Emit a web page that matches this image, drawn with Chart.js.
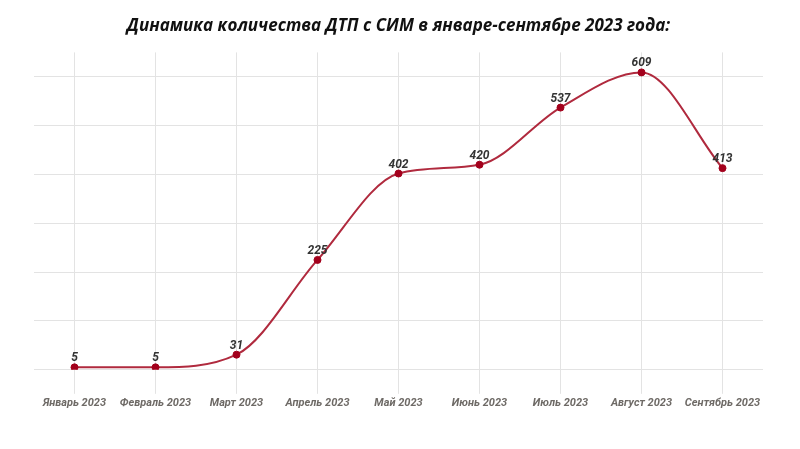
<!DOCTYPE html>
<html>
<head>
<meta charset="utf-8">
<script src="https://cdn.jsdelivr.net/npm/chart.js@4"></script>
<style>
  html, body { margin: 0; padding: 0; background: #fff; }
  #wrap { width: 800px; height: 449px; }
</style>
</head>
<body>
<div id="wrap"><canvas id="dtpChart" width="800" height="449"></canvas></div>
<script>
const months = ['Январь 2023', 'Февраль 2023', 'Март 2023', 'Апрель 2023', 'Май 2023',
  'Июнь 2023', 'Июль 2023', 'Август 2023', 'Сентябрь 2023'];
const accidents = [5, 5, 31, 225, 402, 420, 537, 609, 413];
const titleText = 'Динамика количества ДТП с СИМ в январе-сентябре 2023 года:';

// draws the value above every point
const valueLabels = {
  id: 'valueLabels',
  afterDatasetsDraw(chart) {
    const ctx = chart.ctx;
    const meta = chart.getDatasetMeta(0);
    ctx.save();
    ctx.font = 'italic bold 12px Roboto, "Liberation Sans", sans-serif';
    ctx.fillStyle = '#333';
    ctx.textAlign = 'center';
    ctx.textBaseline = 'middle';
    meta.data.forEach((pt, i) => {
      ctx.fillText(String(accidents[i]), pt.x, pt.y - 9);
    });
    ctx.restore();
  }
};

const gridColor = '#e3e3e3';

new Chart(document.getElementById('dtpChart'), {
  type: 'line',
  data: {
    labels: months,
    datasets: [{
      data: accidents,
      borderColor: '#b02a3e',
      borderWidth: 2,
      backgroundColor: '#a3001c',
      pointBackgroundColor: '#a3001c',
      pointBorderColor: '#a3001c',
      pointRadius: 3.5,
      pointBorderWidth: 1,
      cubicInterpolationMode: 'monotone',
      fill: false
    }]
  },
  options: {
    responsive: false,
    animation: false,
    layout: { padding: { left: 34, right: 37, bottom: 36 } },
    plugins: {
      legend: { display: false },
      tooltip: { enabled: false },
      title: {
        display: true,
        text: titleText,
        color: '#111',
        font: { family: '"Open Sans", Lato, sans-serif', size: 17, weight: 'bold', style: 'italic' },
        padding: { top: 16, bottom: 16 }
      }
    },
    scales: {
      x: {
        offset: true,
        grid: { offset: false, color: gridColor, tickLength: 24 },
        border: { display: false },
        ticks: {
          autoSkip: false,
          maxRotation: 0,
          padding: 3,
          color: '#6e6a66',
          font: { family: 'Roboto, "Liberation Sans", sans-serif', size: 11, weight: 'bold', style: 'italic' }
        }
      },
      y: {
        min: 0,
        max: 650,
        ticks: { display: false, stepSize: 100 },
        grid: {
          drawTicks: false,
          color: (c) => (c.tick && c.tick.value % 100 === 0) ? gridColor : 'rgba(0,0,0,0)'
        },
        border: { display: false }
      }
    }
  },
  plugins: [valueLabels]
});
</script>
</body>
</html>
